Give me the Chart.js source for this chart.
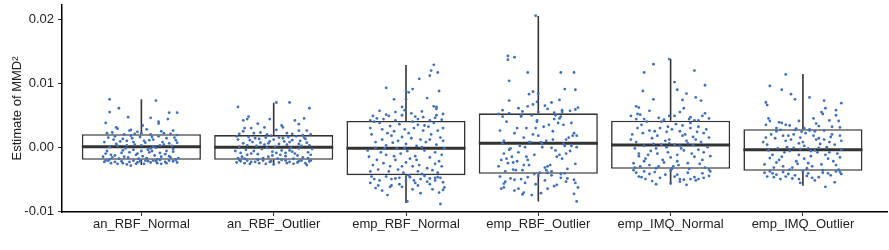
<!DOCTYPE html>
<html><head><meta charset="utf-8">
<script src="https://cdn.jsdelivr.net/npm/chart.js@4"></script>
<style>html,body{margin:0;padding:0;background:#fff}#wrap{width:889px;height:250px}</style>
</head><body><div id="wrap"><canvas id="c" width="889" height="250"></canvas></div>
<script>
// Categories and tick labels
const categories = ["an_RBF_Normal","an_RBF_Outlier","emp_RBF_Normal","emp_RBF_Outlier","emp_IMQ_Normal","emp_IMQ_Outlier"];
const yTickValues = [-0.01, 0.00, 0.01, 0.02];
const yTitle = "Estimate of MMD\u00B2";

// Box statistics
const lowerWhisker = [-0.00277, -0.00266, -0.00875, -0.00850, -0.00589, -0.00605];
const q1 = [-0.00198, -0.00198, -0.00438, -0.00417, -0.00339, -0.00370];
const median = [0.00005, 0.00000, -0.00016, 0.00063, 0.00036, -0.00042];
const q3 = [0.00203, 0.00190, 0.00410, 0.00531, 0.00416, 0.00281];
const upperWhisker = [0.00750, 0.00697, 0.01286, 0.02056, 0.01380, 0.01145];

// Jittered observations: [horizontal jitter in hundredths of a category, value in units of 1e-4]
const VALUE_UNIT = 1e-4, JITTER_UNIT = 0.01;
const jitter1 = [[-24,75],[-24,55],[-17,61],[-27,38],[-10,47],[11,73],[7,46],[21,54],[27,54],[20,44],[13,40],[13,37],[-19,31],[-18,29],[1,34],[-9,26],[-8,27],[-3,24],[0,22],[-13,20],[24,26],[27,19],[17,22],[7,20],[-22,23],[4,28],[-5,21],[15,25],[22,21],[-26,22],
[-8,-29],[-14,-25],[12,-25],[5,-22],[-25,-21],[-20,-23],[-15,-22],[-3,-24],[2,-26],[9,-21],[18,-23],[24,-22],[27,-24],[-28,-23],[-11,-27],[-6,-21],[15,-26],[21,-21],[-18,-26],[-1,-22],[7,-24],[26,-20],[-23,-25],[11,-22],[-9,-23],[19,-25],[-27,-21],[3,-21],[14,-20],[-4,-26],
[-25,15],[-19,5],[-14,-5],[-11,10],[-4,-12],[0,3],[6,-8],[9,12],[15,-15],[21,6],[24,-3],[-27,-10],[-22,-16],[-16,9],[-12,-2],[-7,14],[-2,-18],[3,7],[8,-6],[13,17],[18,-11],[23,2],[28,-17],[-24,0],[-20,-13],[-14,13],[-9,-8],[-5,4],[1,-14],[6,11],[11,-1],[16,8],[21,-14],[26,11],[-26,-6],[-21,12],[-17,-18],[-11,3],[-6,-4],[-1,16],[4,-17],[9,1],[14,-9],[19,14],[24,-7],[-28,8],[-23,-12],[-18,2],[-13,-15],[-8,18],[-3,-10],[2,10],[7,-2],[12,-19],[17,4],[22,-16],[27,7],[-29,-15],[-20,17],[10,-13],[-15,-9],[5,-4],[19,-6],[-6,8],[25,15],[-10,-16],[14,3],[-24,-19],[0,-6],[8,16]];
const jitter2 = [[-27,63],[2,70],[12,70],[27,61],[-23,42],[-20,44],[-19,48],[-12,37],[-3,44],[6,34],[7,31],[16,42],[23,45],[19,36],[-22,30],[-23,25],[-7,31],[-17,30],[19,26],[25,26],[-10,23],[-26,21],[10,22],[2,27],[-5,20],[28,20],[14,21],[-15,22],[22,19],
[25,-28],[-18,-26],[-11,-25],[-6,-26],[18,-24],[-25,-22],[-20,-21],[-14,-23],[-2,-22],[4,-24],[9,-21],[12,-23],[21,-21],[27,-22],[-28,-24],[-8,-21],[0,-27],[15,-26],[-22,-25],[6,-20],[-12,-20],[24,-25],[-3,-23],[19,-22],[-17,-23],[10,-25],[-26,-20],[28,-21],
[-27,12],[-21,-4],[-16,8],[-12,-11],[-6,15],[-1,-7],[4,5],[9,-14],[14,11],[19,-2],[25,7],[28,-12],[-24,-15],[-19,16],[-13,2],[-8,-17],[-3,9],[2,-9],[7,14],[12,-5],[17,17],[22,-16],[27,3],[-29,-6],[-23,6],[-17,-10],[-11,13],[-5,-1],[0,12],[5,-12],[10,4],[15,-18],[20,10],[26,-8],[-26,1],[-20,-12],[-14,14],[-9,-3],[-4,-15],[1,1],[6,-5],[11,16],[16,-10],[21,2],[24,13],[-28,17],[-22,-18],[-15,-6],[-10,7],[-2,18],[3,-18],[8,9],[13,-1],[18,-13],[23,15],[29,-3],[-25,-9],[-18,11],[-7,4],[-1,-13],[4,15],[14,-7],[19,5],[-12,-19],[9,-9],[-20,3],[26,-17],[-4,6],[12,8],[-27,-17]];
const jitter3 = [[21,129],[19,120],[24,117],[18,112],[10,107],[-15,93],[0,88],[2,86],[5,91],[25,88],[16,77],[-9,75],[0,75],[21,64],[23,63],[23,60],[-3,63],[-8,55],[4,53],[-25,49],[-15,51],[-13,49],[-17,44],[7,48],[13,47],[18,42],[23,50],[22,46],[-8,42],[-3,50],[-22,45],[27,43],[-1,58],[12,56],[-20,57],[28,52],[-27,42],[9,44],
[1,-85],[26,-89],[29,-63],[28,-67],[25,-71],[20,-66],[-27,-56],[-23,-64],[-21,-60],[-18,-68],[-12,-62],[-11,-60],[-5,-58],[-3,-62],[7,-56],[9,-60],[16,-54],[22,-52],[22,-48],[-15,-46],[-11,-50],[-8,-49],[3,-47],[6,-52],[11,-50],[18,-49],[24,-47],[26,-48],[-26,-46],[-20,-52],[14,-45],[-5,-48],[0,-53],[18,-58],[28,-55],[-24,-50],[11,-72],[-14,-75],[5,-66],
[-27,30],[-22,-20],[-18,12],[-13,-38],[-9,25],[-4,-10],[0,5],[5,-30],[9,35],[14,-5],[19,20],[24,-40],[28,10],[-25,-28],[-20,38],[-15,-12],[-11,18],[-6,-35],[-1,28],[3,-18],[8,2],[12,-42],[17,32],[22,-8],[26,15],[-29,-5],[-23,8],[-17,-25],[-12,33],[-7,-2],[-2,-40],[2,22],[7,-14],[11,12],[16,-33],[21,38],[25,-22],[29,-2],[-26,20],[-21,-35],[-16,-2],[-10,7],[-5,36],[0,-24],[4,14],[9,-38],[13,26],[18,-16],[23,4],[27,-30],[-28,-15],[-24,40],[-19,-8],[-14,22],[-8,-20],[-3,16],[1,-6],[6,30],[10,-28],[15,8],[20,-36],[24,26],[-27,-38],[-12,-30],[-6,10],[2,-44],[12,0],[18,12],[27,-12],[-18,28],[-9,-14],[5,40],[-1,-1],[22,-26],[-23,-1],[14,34],[-15,3],[8,-20],[28,30],[-3,-30]];
const jitter4 = [[-2,206],[-23,143],[-23,137],[-18,141],[-8,117],[17,117],[27,117],[-22,104],[20,91],[28,90],[-4,87],[-7,83],[0,84],[-22,73],[16,74],[-1,71],[10,70],[5,65],[-8,64],[-4,67],[30,62],[28,59],[18,58],[18,55],[13,50],[-22,53],[-30,52],[-27,48],[-12,56],[7,60],[24,57],[-15,61],[0,55],[12,54],[-27,58],
[29,-85],[27,-73],[-28,-65],[-26,-63],[-25,-54],[-26,-57],[-18,-68],[-15,-65],[-11,-71],[-12,-74],[-5,-75],[2,-72],[7,-65],[12,-61],[14,-59],[21,-54],[22,-49],[28,-56],[27,-51],[-21,-49],[-18,-51],[-13,-50],[-8,-47],[0,-45],[10,-44],[17,-42],[20,-41],[-2,-58],[5,-52],[-29,-46],[30,-63],[-10,-56],[17,-48],
[-24,40],[-28,-20],[-11,15],[-19,-35],[-2,30],[-15,-8],[6,10],[-7,-28],[16,45],[3,0],[27,22],[10,-38],[21,12],[-30,-30],[-13,48],[-26,-10],[-4,20],[-17,-36],[8,35],[-9,-15],[19,5],[1,-40],[25,38],[13,-5],[29,18],[-21,-2],[-6,8],[-23,-25],[-1,42],[-14,2],[7,-40],[11,25],[-3,-12],[23,15],[5,-32],[17,48],[-8,-20],[20,2],[-18,22],[-25,-38],[-10,0],[2,8],[12,44],[-16,-22],[26,18],[-12,-36],[4,32],[14,-15],[-27,6],[9,-28],[-20,-15],[-5,50],[24,-6],[-29,26],[18,-18],[0,18],[-22,-4],[15,38],[28,-26],[-7,8],[22,-34],[-16,30],[6,-36],[-11,-28],[11,12],[-3,-42],[25,2],[-26,10],[21,-10],[-9,30],[16,-12],[-13,50],[10,-1],[-19,-24],[29,0],[-1,40],[3,5],[-24,-18],[19,35],[7,-30]];
const jitter5 = [[-1,138],[-13,130],[18,120],[-20,117],[3,102],[26,97],[-21,88],[5,90],[12,84],[-13,75],[19,78],[9,74],[23,73],[10,61],[-26,64],[-24,62],[-25,52],[-23,51],[-30,49],[-26,44],[26,53],[24,49],[21,42],[18,42],[14,44],[-1,49],[3,49],[-20,44],[7,55],[-9,46],[29,45],[-16,57],[15,47],[-5,43],
[0,-56],[-11,-58],[12,-59],[-4,-43],[7,-50],[5,-43],[-22,-47],[-24,-46],[-26,-40],[-19,-50],[-16,-42],[-12,-39],[18,-47],[21,-50],[19,-52],[25,-48],[29,-45],[29,-35],[30,-38],[10,-51],[15,-50],[7,-54],[-28,-36],[0,-37],[-8,-48],[24,-41],[-14,-53],[13,-40],[3,-46],[-20,-38],
[-29,20],[-24,-10],[-22,35],[-16,-28],[-13,5],[-8,30],[-6,-20],[-1,12],[2,-30],[7,25],[10,-5],[15,38],[18,-15],[23,8],[26,-32],[-27,-2],[-21,22],[-19,-18],[-14,14],[-11,-33],[-7,40],[-3,0],[1,28],[5,-12],[9,18],[13,-25],[17,3],[21,32],[25,-8],[29,15],[-28,-25],[-25,30],[-20,2],[-17,-12],[-12,25],[-9,-30],[-4,10],[0,-16],[4,36],[8,-2],[11,20],[14,-34],[19,12],[24,-20],[27,28],[-26,8],[-23,-30],[-18,40],[-15,-6],[-10,18],[-5,-24],[-2,32],[3,4],[6,-28],[12,10],[16,-10],[20,24],[22,-26],[28,0],[-30,12],[-20,-22],[-11,-2],[-3,24],[5,-22],[13,6],[21,-4],[30,-14],[-24,-14],[-7,4],[9,34],[-16,26],[17,16],[-1,6],[-2,-8],[7,2],[25,22],[-10,-10],[15,30],[-27,-32],[1,-34]];
const jitter6 = [[-13,114],[-25,96],[-16,90],[-9,83],[-6,75],[5,78],[-28,70],[-27,66],[16,73],[29,69],[17,61],[14,55],[15,52],[25,58],[25,50],[-26,45],[-25,41],[-18,39],[-16,38],[-13,35],[-10,34],[20,42],[27,41],[-3,41],[10,37],[-28,35],[22,32],[1,30],[5,28],[8,45],[-20,30],[28,31],[12,33],[-5,29],
[17,-62],[-2,-56],[24,-55],[-27,-46],[-22,-47],[-17,-50],[-8,-49],[-3,-50],[3,-45],[7,-48],[12,-47],[19,-41],[25,-38],[28,-39],[-23,-41],[-20,-43],[-15,-39],[-11,-42],[0,-38],[-6,-44],[15,-40],[-25,-38],[9,-52],[21,-44],[-13,-46],[29,-42],[-29,-40],[4,-41],
[-28,15],[-23,-12],[-20,25],[-15,-30],[-12,0],[-7,20],[-5,-22],[0,8],[3,-33],[8,18],[11,-8],[16,26],[19,-18],[24,4],[27,-35],[-26,-5],[-21,14],[-18,-20],[-13,10],[-10,-35],[-6,27],[-2,-3],[2,22],[6,-14],[10,12],[14,-27],[18,0],[22,20],[26,-10],[29,10],[-29,-27],[-24,20],[-19,-2],[-16,-15],[-11,18],[-8,-32],[-3,6],[1,-18],[5,26],[9,-5],[12,14],[15,-36],[20,8],[23,-22],[28,18],[-27,4],[-22,-32],[-17,27],[-14,-8],[-9,12],[-4,-26],[-1,24],[4,-2],[7,-30],[13,5],[17,-12],[21,16],[25,-28],[29,-4],[-30,8],[-20,-24],[-10,-6],[-2,15],[4,-25],[12,-1],[20,-8],[28,-16],[-25,-17],[-7,-1],[9,25],[-15,18],[16,12],[1,2],[-3,-12],[6,-6]];
const jitterGroups = [jitter1, jitter2, jitter3, jitter4, jitter5, jitter6];

// ---- build datasets from the arrays ----
const BOX_HALF = 0.45;
const pointData = [];
jitterGroups.forEach((g, i) => g.forEach(([dx, v]) => pointData.push({x: i + 1 + dx * JITTER_UNIT, y: v * VALUE_UNIT})));
const boxData = categories.map((c, i) => ({x: i + 1, y: [q1[i], q3[i]]}));
const medianData = [];
const whiskerData = [];
categories.forEach((c, i) => {
  const x = i + 1;
  medianData.push({x: x - BOX_HALF, y: median[i]}, {x: x + BOX_HALF, y: median[i]}, {x: x + 0.5, y: null});
  whiskerData.push({x: x, y: q3[i]}, {x: x, y: upperWhisker[i]}, {x: x, y: null},
                   {x: x, y: q1[i]}, {x: x, y: lowerWhisker[i]}, {x: x + 0.5, y: null});
});

const FONT = "'Liberation Sans', Arial, sans-serif";
const TXT = '#222222';
const LINE = '#333333';

new Chart(document.getElementById('c'), {
  type: 'scatter',
  data: {
    datasets: [
      {type: 'scatter', data: pointData, backgroundColor: '#4270b7', borderWidth: 0, pointRadius: 1.4, pointHoverRadius: 1.4, order: 0},
      {type: 'line', data: medianData, borderColor: LINE, borderWidth: 3, pointRadius: 0, spanGaps: false, fill: false, order: 1},
      {type: 'bar', data: boxData, backgroundColor: '#ffffff', borderColor: LINE, borderWidth: 1.6, borderSkipped: false,
       barPercentage: 0.9, categoryPercentage: 1.0, order: 2},
      {type: 'line', data: whiskerData, borderColor: LINE, borderWidth: 1.6, pointRadius: 0, spanGaps: false, fill: false, order: 3}
    ]
  },
  options: {
    responsive: false,
    animation: false,
    devicePixelRatio: 1,
    layout: {padding: {left: 10, top: 5, right: 1, bottom: 0}},
    plugins: {legend: {display: false}, tooltip: {enabled: false}},
    scales: {
      x: {
        type: 'linear', min: 0.4, max: 6.64, offset: false,
        afterBuildTicks: s => { s.ticks = categories.map((c, i) => ({value: i + 1})); },
        afterFit: s => { s.height = 38; s.paddingLeft = 0; s.paddingRight = 0; },
        ticks: {callback: v => categories[Math.round(v) - 1], font: {family: FONT, size: 13}, color: TXT,
                padding: 1, autoSkip: false, maxRotation: 0},
        grid: {offset: false, drawOnChartArea: false, drawTicks: true, tickLength: 4, color: LINE, lineWidth: 1},
        border: {display: true, color: '#000', width: 1.5}
      },
      y: {
        type: 'linear', min: -0.01015, max: 0.02227,
        afterBuildTicks: s => { s.ticks = yTickValues.map(v => ({value: v})); },
        afterFit: s => { s.width = 52; s.paddingTop = 0; s.paddingBottom = 0; },
        ticks: {callback: v => v.toFixed(2), font: {family: FONT, size: 13}, color: TXT, padding: 4},
        grid: {drawOnChartArea: false, drawTicks: true, tickLength: 4, color: LINE, lineWidth: 1},
        border: {display: true, color: '#000', width: 1.5},
        title: {display: true, text: yTitle, font: {family: FONT, size: 13}, color: TXT, padding: {top: 0, bottom: 0}}
      }
    }
  }
});
</script>
</body></html>
